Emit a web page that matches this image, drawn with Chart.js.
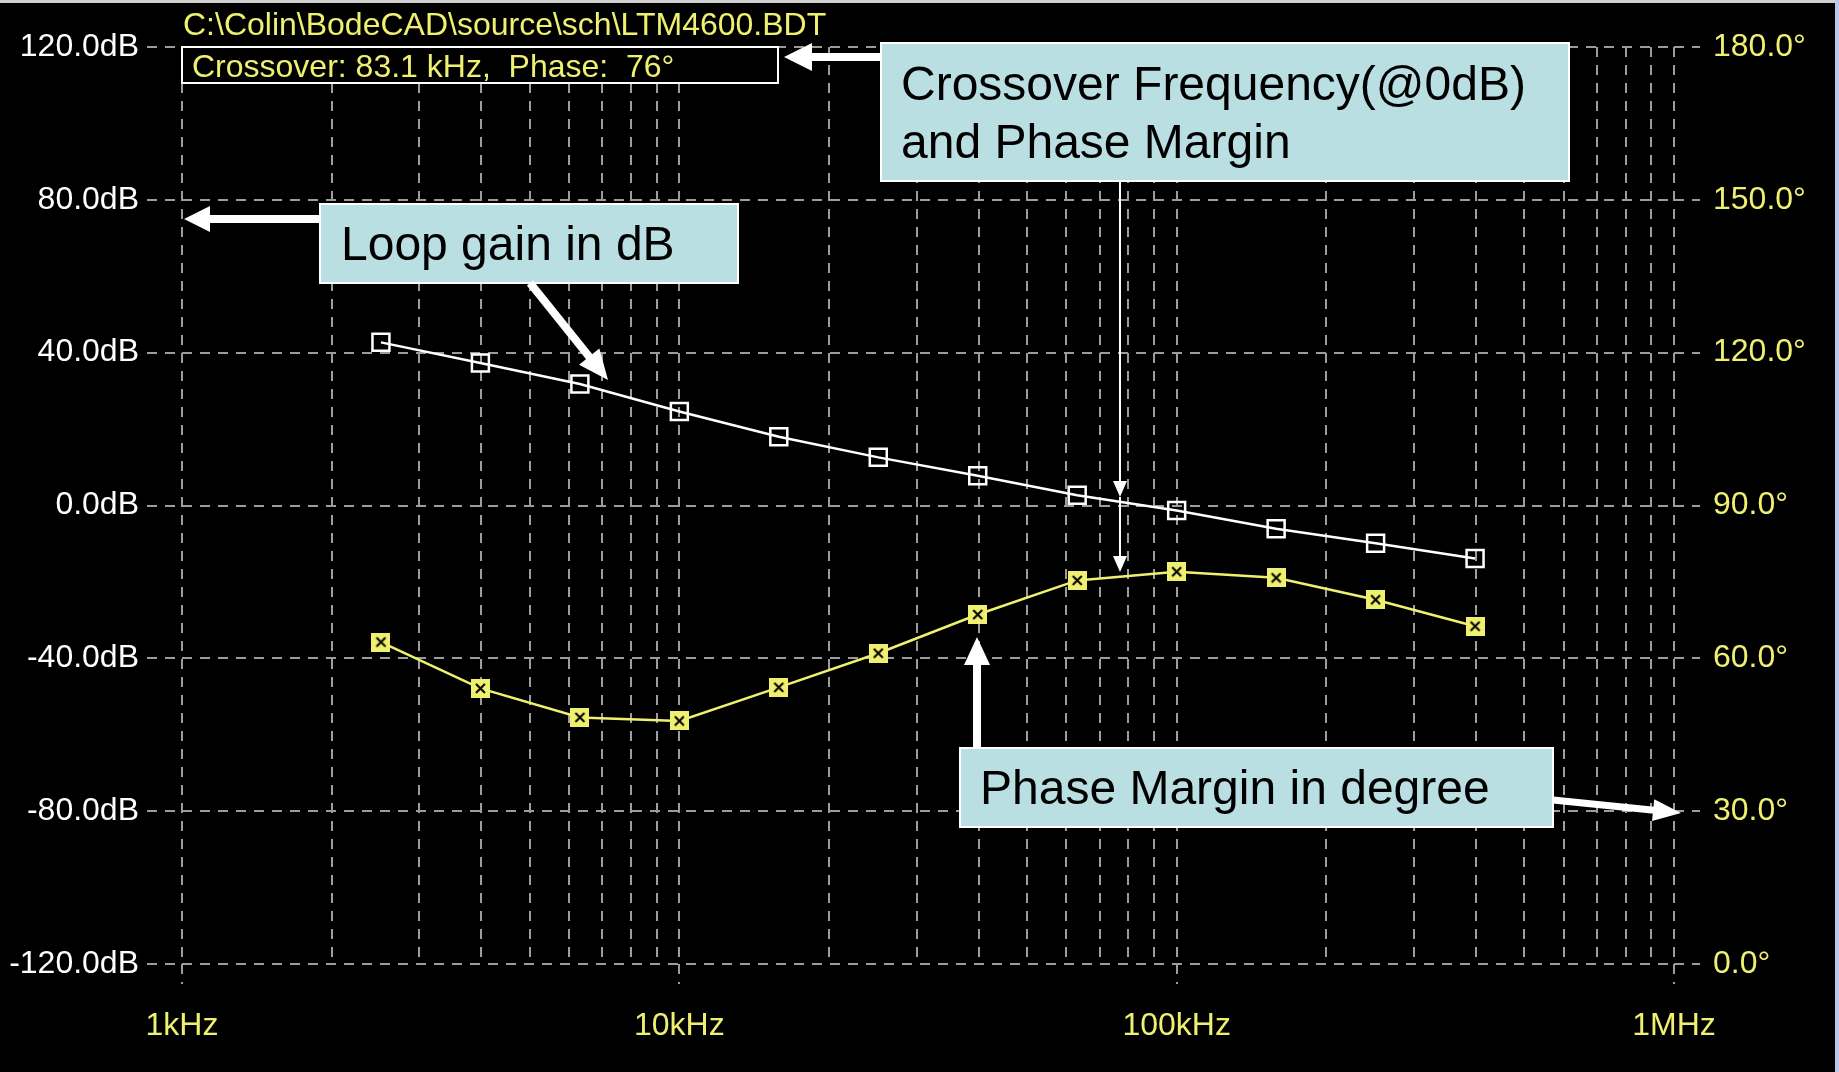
<!DOCTYPE html>
<html>
<head>
<meta charset="utf-8">
<title>LTM4600 loop gain / phase</title>
<script src="https://cdn.jsdelivr.net/npm/chart.js@4.4.1/dist/chart.umd.min.js"></script>
<style>
  html, body { margin: 0; padding: 0; background: #000; overflow: hidden; }
  #wrap { position: relative; width: 1839px; height: 1072px; }
</style>
</head>
<body>
<div id="wrap"><canvas id="bode" width="1839" height="1072"></canvas></div>
<script>
// data (5 points per decade)
const frequencies = [2512, 3981, 6310, 10000, 15849, 25119, 39811, 63096, 100000, 158489, 251189, 398107];
const loopGainDb = [42.7, 37.3, 31.8, 24.6, 18.0, 12.6, 7.8, 2.7, -1.3, -6.1, -9.9, -13.9];
const phaseDeg = [63.2, 54.1, 48.4, 47.7, 54.3, 61.0, 68.6, 75.3, 77.0, 75.8, 71.5, 66.3];

// axis ticks
const decadeTicks = [1e3, 1e4, 1e5, 1e6];
const decadeLabels = ['1kHz', '10kHz', '100kHz', '1MHz'];
const gainTicks = [-120, -80, -40, 0, 40, 80, 120];
const phaseTicks = [0, 30, 60, 90, 120, 150, 180];

// texts
const fileName = 'C:\\Colin\\BodeCAD\\source\\sch\\LTM4600.BDT';
const crossoverText = 'Crossover: 83.1 kHz,  Phase:  76°';
const calloutCrossover = ['Crossover Frequency(@0dB)', 'and Phase Margin'];
const calloutGain = ['Loop gain in dB'];
const calloutPhase = ['Phase Margin in degree'];

const YELLOW = '#f0f070';
const GRID = '#9c9c9c';
const DASH = [10, 8];
const SANS = '"Liberation Sans", Arial, Helvetica, sans-serif';

// phase marker: yellow square with a dark cross inside
function phaseMarker() {
    const c = document.createElement('canvas');
    c.width = 19; c.height = 19;
    const g = c.getContext('2d');
    g.fillStyle = YELLOW;
    g.fillRect(0, 0, 19, 19);
    g.strokeStyle = '#000';
    g.lineWidth = 2;
    g.beginPath();
    g.moveTo(5, 5); g.lineTo(14, 14);
    g.moveTo(14, 5); g.lineTo(5, 14);
    g.stroke();
    return c;
}

function arrow(g, x1, y1, x2, y2, w, hl, hw) {
    const a = Math.atan2(y2 - y1, x2 - x1);
    const len = Math.hypot(x2 - x1, y2 - y1);
    g.save();
    g.translate(x1, y1);
    g.rotate(a);
    g.fillStyle = '#fff';
    g.fillRect(0, -w / 2, len - hl + 1, w);
    g.beginPath();
    g.moveTo(len, 0);
    g.lineTo(len - hl, -hw / 2);
    g.lineTo(len - hl, hw / 2);
    g.closePath();
    g.fill();
    g.restore();
}

function callout(g, x, y, w, h, lines, tx, ty, lh) {
    g.fillStyle = '#badfe3';
    g.fillRect(x, y, w, h);
    g.strokeStyle = '#fff';
    g.lineWidth = 2;
    g.strokeRect(x, y, w, h);
    g.fillStyle = '#000';
    g.font = '48px ' + SANS;
    g.textAlign = 'left';
    g.textBaseline = 'alphabetic';
    lines.forEach((t, i) => g.fillText(t, tx, ty + i * lh));
}

const annotations = {
    id: 'annotations',
    afterDraw(chart) {
        const g = chart.ctx;
        g.save();

        // window frame edges
        g.fillStyle = '#d0d0d0';
        g.fillRect(0, 0, 1839, 3);
        g.fillStyle = '#b8c8e8';
        g.fillRect(1835, 0, 4, 1072);

        // file name + crossover readout
        g.font = '32px ' + SANS;
        g.fillStyle = YELLOW;
        g.textAlign = 'left';
        g.textBaseline = 'alphabetic';
        g.fillText(fileName, 183, 35);

        g.fillStyle = '#000';
        g.fillRect(182, 47, 596, 36);
        g.strokeStyle = '#fff';
        g.lineWidth = 2;
        g.strokeRect(182, 47, 596, 36);
        g.fillStyle = YELLOW;
        g.fillText(crossoverText, 192, 77);

        // callouts
        callout(g, 881, 43, 688, 138, calloutCrossover, 901, 100, 58);
        callout(g, 320, 204, 418, 79, calloutGain, 341, 260, 0);
        callout(g, 960, 748, 593, 79, calloutPhase, 980, 804, 0);

        // arrows
        arrow(g, 881, 57, 784, 57, 8, 28, 28);
        arrow(g, 320, 219, 184, 219, 8, 26, 26);
        arrow(g, 530, 283, 608, 380, 8, 30, 26);
        arrow(g, 1120, 181, 1120, 497, 2, 16, 14);
        arrow(g, 1120, 497, 1120, 572, 2, 16, 14);
        arrow(g, 977, 748, 977, 637, 8, 28, 26);
        arrow(g, 1553, 800, 1681, 813, 7, 28, 22);

        g.restore();
    }
};

Chart.defaults.font.family = SANS;

new Chart(document.getElementById('bode'), {
    type: 'line',
    data: {
        datasets: [
            {
                label: 'Loop gain',
                data: frequencies.map((f, i) => ({ x: f, y: loopGainDb[i] })),
                yAxisID: 'y',
                borderColor: '#ffffff',
                borderWidth: 2.5,
                pointStyle: 'rect',
                pointRadius: 12,
                pointBorderWidth: 2.5,
                pointBorderColor: '#ffffff',
                pointBackgroundColor: 'rgba(0,0,0,0)',
                tension: 0
            },
            {
                label: 'Phase',
                data: frequencies.map((f, i) => ({ x: f, y: phaseDeg[i] })),
                yAxisID: 'y1',
                borderColor: YELLOW,
                borderWidth: 2.5,
                pointStyle: phaseMarker(),
                tension: 0
            }
        ]
    },
    options: {
        responsive: false,
        animation: false,
        devicePixelRatio: 1,
        layout: { padding: { top: 47, left: 0, right: 0, bottom: 0 } },
        plugins: {
            legend: { display: false },
            tooltip: { enabled: false }
        },
        scales: {
            x: {
                type: 'logarithmic',
                min: 1e3,
                max: 1e6,
                afterBuildTicks: s => {
                    const t = [];
                    for (let d = 1e3; d < 1e6; d *= 10) {
                        for (let m = 1; m < 10; m++) t.push({ value: m * d });
                    }
                    t.push({ value: 1e6 });
                    s.ticks = t;
                },
                afterFit: s => { s.height = 108; },
                ticks: {
                    autoSkip: false,
                    maxRotation: 0,
                    color: YELLOW,
                    font: { size: 32 },
                    padding: 23,
                    callback: v => {
                        const i = decadeTicks.indexOf(v);
                        return i >= 0 ? decadeLabels[i] : '';
                    }
                },
                grid: {
                    color: GRID,
                    lineWidth: 2,
                    borderDash: DASH,
                    tickLength: 20,
                    tickBorderDash: DASH,
                    tickColor: c => decadeTicks.includes(c.tick && c.tick.value) ? GRID : 'rgba(0,0,0,0)'
                },
                border: { display: false, dash: DASH }
            },
            y: {
                position: 'left',
                min: -120,
                max: 120,
                afterBuildTicks: s => { s.ticks = gainTicks.map(v => ({ value: v })); },
                afterFit: s => { s.width = 182; },
                ticks: {
                    color: '#ffffff',
                    font: { size: 32 },
                    padding: 8,
                    callback: v => v.toFixed(1) + 'dB'
                },
                grid: {
                    color: GRID,
                    lineWidth: 2,
                    borderDash: DASH,
                    tickLength: 35,
                    tickBorderDash: DASH,
                    tickColor: GRID
                },
                border: { display: false, dash: DASH }
            },
            y1: {
                position: 'right',
                min: 0,
                max: 180,
                afterBuildTicks: s => { s.ticks = phaseTicks.map(v => ({ value: v })); },
                afterFit: s => { s.width = 165; },
                ticks: {
                    color: YELLOW,
                    font: { size: 32 },
                    padding: 13,
                    callback: v => v.toFixed(1) + '°'
                },
                grid: {
                    drawOnChartArea: false,
                    color: GRID,
                    lineWidth: 2,
                    tickLength: 26,
                    tickBorderDash: DASH,
                    tickColor: GRID
                },
                border: { display: false, dash: DASH }
            }
        }
    },
    plugins: [annotations]
});
</script>
</body>
</html>
